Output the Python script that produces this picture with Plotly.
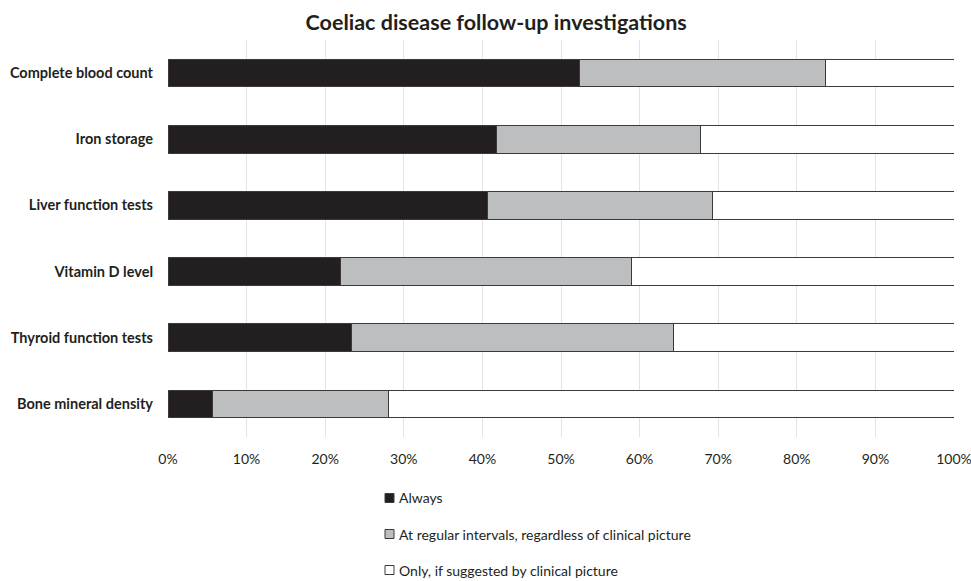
import plotly.graph_objects as go

# Share of respondents (%) per investigation and frequency
categories = [
    "Complete blood count",
    "Iron storage",
    "Liver function tests",
    "Vitamin D level",
    "Thyroid function tests",
    "Bone mineral density",
]
always = [52.4, 41.8, 40.6, 22.0, 23.4, 5.7]
regular = [31.3, 25.9, 28.7, 37.0, 40.9, 22.3]
clinical = [16.3, 32.3, 30.7, 41.0, 35.7, 72.0]

series_names = [
    "Always",
    "At regular intervals, regardless of clinical picture",
    "Only, if suggested by clinical picture",
]
series_values = [always, regular, clinical]
series_colors = ["#231f20", "#bcbec0", "#ffffff"]

FONT = "Lato"
TEXT = "#231f20"
OUTLINE = "#3a3a3a"

W, H = 971, 581
ML, MR, MT, MB = 168, 17, 40, 144
PW, PH = W - ML - MR, H - MT - MB


def px_to_paper_x(px):
    return (px - ML) / PW


def px_to_paper_y(py):
    return (H - MB - py) / PH


fig = go.Figure()
for name, vals, color in zip(series_names, series_values, series_colors):
    fig.add_trace(go.Bar(
        y=categories,
        x=vals,
        name=name,
        orientation="h",
        marker=dict(color=color, line=dict(color=OUTLINE, width=1)),
        showlegend=False,
    ))

# Compact legend below the plot: small square swatch followed by label
legend_x = 385
legend_y0 = 498
legend_step = 36
for i, (name, color) in enumerate(zip(series_names, series_colors)):
    cy = legend_y0 + i * legend_step
    fig.add_shape(
        type="rect", xref="paper", yref="paper",
        x0=px_to_paper_x(legend_x), x1=px_to_paper_x(legend_x + 9),
        y0=px_to_paper_y(cy + 4.5), y1=px_to_paper_y(cy - 4.5),
        fillcolor=color, line=dict(color=OUTLINE, width=1),
    )
    fig.add_annotation(
        xref="paper", yref="paper",
        x=px_to_paper_x(legend_x + 12), y=px_to_paper_y(cy),
        xanchor="left", yanchor="middle",
        text=name, showarrow=False,
        font=dict(family=FONT, size=14, color=TEXT),
    )

fig.update_layout(
    barmode="stack",
    bargap=0.58,
    width=W,
    height=H,
    margin=dict(l=ML, r=MR, t=MT, b=MB),
    paper_bgcolor="white",
    plot_bgcolor="white",
    font=dict(family=FONT, size=14.5, color=TEXT),
    showlegend=False,
    title=dict(
        text="<b>Coeliac disease follow-up investigations</b>",
        x=0.511,
        xref="container",
        xanchor="center",
        y=0.962,
        yanchor="middle",
        font=dict(family=FONT, size=21.5, color=TEXT),
    ),
    xaxis=dict(
        range=[0, 100],
        tickvals=[0, 10, 20, 30, 40, 50, 60, 70, 80, 90, 100],
        ticktext=[f"{v}%" for v in range(0, 101, 10)],
        showgrid=True,
        gridcolor="#e3e3e3",
        gridwidth=1,
        zeroline=False,
        showline=False,
        ticks="",
        automargin=False,
        ticklabeloverflow="allow",
        ticklabelstandoff=12,
        tickfont=dict(size=14, color=TEXT),
    ),
    yaxis=dict(
        autorange="reversed",
        showgrid=False,
        ticks="",
        automargin=False,
        ticklabelstandoff=14,
        tickfont=dict(size=14.5, color=TEXT),
        tickvals=categories,
        ticktext=[f"<b>{c}</b>" for c in categories],
    ),
)

fig.write_html("out.html")
